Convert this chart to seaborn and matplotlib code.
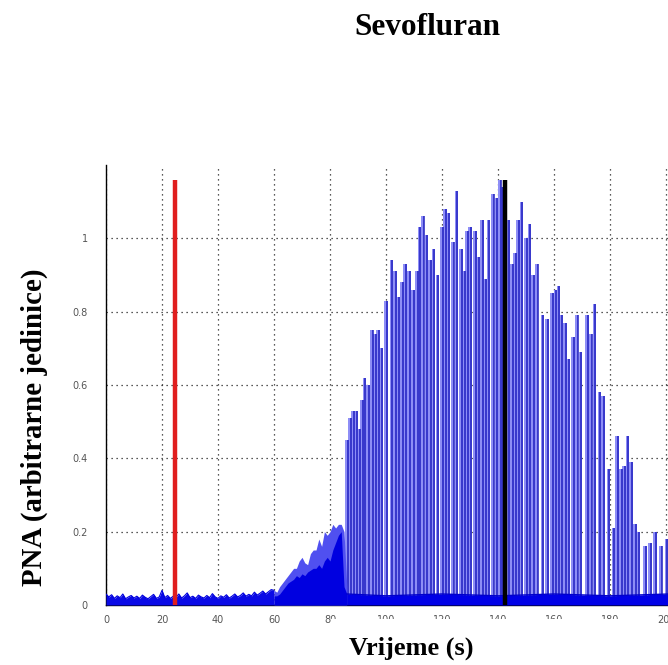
import matplotlib
matplotlib.use("Agg")
import matplotlib.pyplot as plt
from matplotlib.patches import Rectangle
import seaborn as sns
import numpy as np
import pandas as pd

# --- data ---
# noise floor before the bursts start (s, value)
floor_t = list(range(0, 61))
floor_h = [0.030, 0.022, 0.028, 0.018, 0.025, 0.020, 0.030, 0.017, 0.022, 0.026,
           0.019, 0.024, 0.018, 0.027, 0.021, 0.017, 0.023, 0.029, 0.018, 0.022,
           0.040, 0.020, 0.026, 0.018, 0.024, 0.021, 0.030, 0.019, 0.025, 0.033,
           0.020, 0.024, 0.018, 0.027, 0.022, 0.019, 0.026, 0.020, 0.031, 0.022,
           0.018, 0.025, 0.021, 0.028, 0.019, 0.024, 0.030, 0.022, 0.026, 0.033,
           0.024, 0.029, 0.025, 0.035, 0.027, 0.032, 0.038, 0.030, 0.036, 0.042,
           0.040]

# rising activity 60-86 s: spiky top and solid core
ramp_t = [60, 61, 62, 63, 64, 65, 66, 67, 68, 69, 70, 71, 72, 73, 74, 75, 76,
          77, 78, 79, 80, 81, 82, 83, 84, 85, 86]
ramp_outer = [0.040, 0.035, 0.050, 0.060, 0.070, 0.080, 0.090, 0.100, 0.100,
              0.120, 0.130, 0.115, 0.110, 0.140, 0.150, 0.150, 0.180, 0.160,
              0.200, 0.190, 0.200, 0.220, 0.210, 0.220, 0.220, 0.200, 0.050]
ramp_core = [0.025, 0.025, 0.030, 0.040, 0.050, 0.060, 0.065, 0.070, 0.080,
             0.075, 0.085, 0.080, 0.090, 0.095, 0.100, 0.100, 0.110, 0.100,
             0.120, 0.130, 0.120, 0.150, 0.170, 0.190, 0.200, 0.050, 0.030]

# baseline under the bursts
base_t = [86, 100, 120, 140, 160, 180, 201]
base_h = [0.030, 0.025, 0.030, 0.025, 0.030, 0.025, 0.030]

# individual bursts: time (s) and peak
burst_t = [86.0, 87.1, 88.1, 89.3, 90.5, 91.4, 92.3, 93.5, 94.9, 96.1, 97.2,
           98.4, 100.0, 102.0, 103.2, 104.3, 105.6, 106.8, 108.2, 109.7, 111.0,
           112.0, 113.1, 114.5, 115.7, 116.9, 118.3, 119.9, 121.1, 122.2,
           123.8, 125.2, 126.7, 127.8, 128.9, 130.0, 131.8, 133.0, 134.2,
           135.5, 136.6, 138.1, 139.5, 140.6, 141.6, 143.7, 145.0, 146.1,
           147.2, 148.4, 150.0, 151.2, 152.4, 153.8, 155.9, 157.4, 159.2,
           160.5, 161.6, 162.7, 163.9, 165.1, 166.7, 168.1, 169.5, 171.7,
           173.1, 174.4, 176.2, 177.4, 179.4, 181.2, 182.4, 183.8, 185.0,
           186.2, 187.4, 188.9, 190.1, 192.5, 194.3, 196.1, 198.1, 200.2]
burst_h = [0.45, 0.51, 0.53, 0.53, 0.48, 0.56, 0.62, 0.60, 0.75, 0.74, 0.75,
           0.70, 0.83, 0.94, 0.91, 0.84, 0.88, 0.93, 0.91, 0.86, 0.91,
           1.03, 1.06, 1.01, 0.94, 0.97, 0.90, 1.03, 1.08, 1.07,
           0.99, 1.13, 0.97, 0.91, 1.02, 1.03, 1.02, 0.95, 1.05,
           0.89, 1.05, 1.12, 1.11, 1.16, 1.14, 1.05, 0.93, 0.96,
           1.05, 1.10, 1.00, 1.04, 0.90, 0.93, 0.79, 0.78, 0.85,
           0.86, 0.87, 0.79, 0.77, 0.67, 0.73, 0.79, 0.69, 0.79,
           0.74, 0.82, 0.58, 0.57, 0.37, 0.21, 0.46, 0.37, 0.38,
           0.46, 0.39, 0.22, 0.20, 0.16, 0.17, 0.20, 0.16, 0.18]

# event markers
marker_t = [24.6, 142.5]
marker_top = 1.16
marker_colors = ["#e01e1e", "black"]

x_ticks = [0, 20, 40, 60, 80, 100, 120, 140, 160, 180, 200]
y_ticks = [0, 0.2, 0.4, 0.6, 0.8, 1.0]
y_ticklabels = ["0", "0.2", "0.4", "0.6", "0.8", "1"]

sns.set_style("white")
serif = ["Liberation Serif", "DejaVu Serif"]

fig = plt.figure(figsize=(6.68, 6.65), dpi=100)
ax = fig.add_axes([106 / 668, 60 / 665, 562 / 668, 440 / 665])

floor_df = pd.DataFrame({"t": floor_t, "h": floor_h})
base_df = pd.DataFrame({"t": base_t, "h": base_h})

# noise floor
ax.fill_between(floor_df["t"], 0, floor_df["h"], color="#0a0ae6", lw=0, zorder=3)
sns.lineplot(data=floor_df, x="t", y="h", ax=ax, color="#0000dd", lw=0.8, zorder=3)

# ramp
ax.fill_between(ramp_t, 0, ramp_outer, color="#5050f0", lw=0, zorder=3)
ax.fill_between(ramp_t, 0, ramp_core, color="#0000e0", lw=0, zorder=3)

# bursts: light column with a dark edge
ax.bar(burst_t, burst_h, width=1.25, color="#8e8ef6", lw=0, zorder=2)
ax.vlines(np.array(burst_t) + 0.3, 0, burst_h, color="#2020c0", lw=1.1, zorder=2)

# baseline band under bursts
ax.fill_between(base_df["t"], 0, base_df["h"], color="#0000e6", lw=0, zorder=3)
sns.lineplot(data=base_df, x="t", y="h", ax=ax, color="#0000cc", lw=1.0, zorder=3)

# red / black markers
ax.vlines(marker_t, 0, marker_top, colors=marker_colors, lw=3.2, zorder=4)

ax.set_xlim(0, 200.7)
ax.set_ylim(0, 1.2)
ax.set_xticks(x_ticks)
ax.set_xticklabels([str(v) for v in x_ticks])
ax.set_yticks(y_ticks)
ax.set_yticklabels(y_ticklabels)
ax.set_xlabel("")
ax.set_ylabel("")

ax.grid(True, color="#222222", linestyle=(0, (1, 3)), lw=0.9)
ax.set_axisbelow(True)
for side in ["top", "right"]:
    ax.spines[side].set_visible(False)
for side in ["left", "bottom"]:
    ax.spines[side].set_color("black")
    ax.spines[side].set_linewidth(1.0)

ax.tick_params(axis="both", direction="out", length=4, width=0.8, color="#333333",
               labelsize=7, labelcolor="#555555")
ax.tick_params(axis="y", pad=9)
ax.tick_params(axis="x", pad=3)

# white box under the x label hides part of the tick labels
fig.add_artist(Rectangle((331 / 668, 0), 322 / 668, 46 / 665,
                         transform=fig.transFigure, facecolor="white",
                         edgecolor="none", zorder=10))

fig.text(427 / 668, 1 - 35 / 665, "Sevofluran", ha="center", va="baseline",
         fontsize=22.5, fontweight="bold", family=serif, color="black", zorder=11)
fig.text(411 / 668, 1 - 655 / 665, "Vrijeme (s)", ha="center", va="baseline",
         fontsize=19, fontweight="bold", family=serif, color="black", zorder=11)
fig.text(34 / 668, 1 - 427 / 665, "PNA (arbitrarne jedinice)", ha="center",
         va="center", rotation=90, fontsize=20.8, fontweight="bold",
         family=serif, color="black", zorder=11)

fig.savefig("out.png", dpi=100)
